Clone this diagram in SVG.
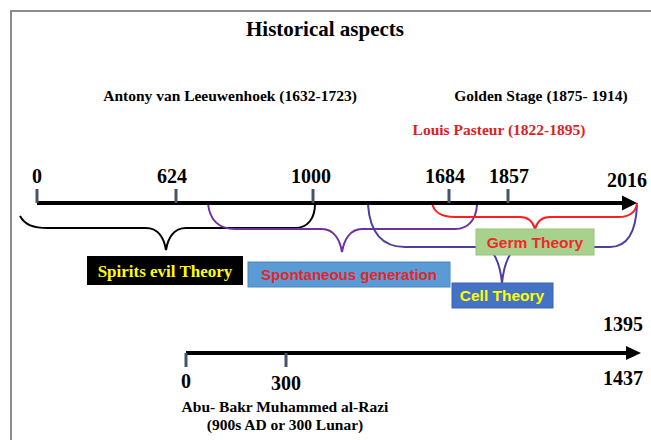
<svg xmlns="http://www.w3.org/2000/svg" width="651" height="440" viewBox="0 0 651 440">
<style>
.serif{font-family:"Liberation Serif","Times New Roman",serif;font-weight:bold}
.sans{font-family:"Liberation Sans",Arial,sans-serif;font-weight:bold}
.tick{stroke:#44546A;stroke-width:3}
.axis{stroke:#000;stroke-width:4}
.brace{fill:none;stroke-width:2}
</style>
<rect width="651" height="440" fill="#fff"/>
<g id="border" stroke="#8c8c8c" stroke-width="2" fill="none">
<path d="M11,440 V11 H651"/>
</g>
<g id="title"><text class="serif" x="325" y="36" font-size="21" text-anchor="middle" fill="#000">Historical aspects</text></g>
<g id="leeuwenhoek"><text class="serif" x="230" y="101" font-size="15.5" text-anchor="middle" fill="#000">Antony van Leeuwenhoek (1632-1723)</text></g>
<g id="golden"><text class="serif" x="541" y="101" font-size="15.5" text-anchor="middle" fill="#000">Golden Stage (1875- 1914)</text></g>
<g id="pasteur"><text class="serif" x="499" y="135" font-size="15.5" text-anchor="middle" fill="#E0201E">Louis Pasteur (1822-1895)</text></g>
<g id="connectors">
<path class="brace" stroke="#000" d="M20,216 C25,225 33,228 48,228 L146,228 C158,228 164,238 166,250 C168,238 174,228 186,228 L295,228 C308,228 315,218 315,204"/>
<path class="brace" stroke="#7030A0" d="M208,204 C210,220 218,229 235,229 L322,229 C334,229 340,240 342,252 C344,240 350,229 362,229 L455,229 C468,229 476,220 477,205"/>
<path class="brace" stroke="#4B3FA6" d="M368,205 C370,232 382,247 405,247 L482,247 C494,247 500,264 502,283 C504,264 510,247 522,247 L610,247 C628,247 636,230 637,205"/>
<path class="brace" stroke="#FF1E1E" d="M432,203 C434,212 440,217 455,217 L520,217 C528,217 533,222 535,229 C537,222 542,217 550,217 L618,217 C630,217 636,212 637,203"/>
</g>
<g id="main-axis">
<line class="axis" x1="37" y1="203" x2="624" y2="203"/>
<polygon points="622,195.5 637,203 622,210.5" fill="#000"/>
<line class="tick" x1="37" y1="189" x2="37" y2="203"/>
<line class="tick" x1="176" y1="189" x2="176" y2="203"/>
<line class="tick" x1="313" y1="189" x2="313" y2="203"/>
<line class="tick" x1="449" y1="189" x2="449" y2="203"/>
<line class="tick" x1="508" y1="189" x2="508" y2="203"/>
<text class="serif" x="37" y="183" font-size="20" text-anchor="middle">0</text>
<text class="serif" x="172" y="183" font-size="20" text-anchor="middle">624</text>
<text class="serif" x="311" y="183" font-size="20" text-anchor="middle">1000</text>
<text class="serif" x="445" y="183" font-size="20" text-anchor="middle">1684</text>
<text class="serif" x="509" y="183" font-size="20" text-anchor="middle">1857</text>
<text class="serif" x="627" y="187" font-size="20" text-anchor="middle">2016</text>
</g>
<g id="spirits">
<rect x="87" y="256" width="156" height="29" fill="#000"/>
<text class="serif" x="165" y="277" font-size="17" text-anchor="middle" fill="#FFFF00">Spirits evil Theory</text>
</g>
<g id="spontaneous">
<rect x="248" y="262" width="202" height="25" fill="#5B9BD5" stroke="#4a86c0" stroke-width="1"/>
<text class="sans" x="349" y="280" font-size="15" text-anchor="middle" fill="#E0282A">Spontaneous generation</text>
</g>
<g id="germ">
<rect x="476" y="229" width="118" height="26" fill="#A9D18E" stroke="#98c47c" stroke-width="1"/>
<text class="sans" x="535" y="248" font-size="15.5" text-anchor="middle" fill="#F0282A">Germ Theory</text>
</g>
<g id="cell">
<rect x="452" y="283" width="101" height="25" fill="#4472C4" stroke="#3a64b0" stroke-width="1"/>
<text class="sans" x="502" y="301" font-size="15.5" text-anchor="middle" fill="#FFFF00">Cell Theory</text>
</g>
<g id="second-axis">
<line class="axis" x1="186" y1="353" x2="627" y2="353"/>
<polygon points="626,346 641,353 626,360" fill="#000"/>
<line class="tick" x1="186" y1="353" x2="186" y2="367"/>
<line class="tick" x1="286" y1="353" x2="286" y2="367"/>
<text class="serif" x="186" y="388" font-size="20" text-anchor="middle">0</text>
<text class="serif" x="286" y="390" font-size="20" text-anchor="middle">300</text>
<text class="serif" x="643" y="331" font-size="20" text-anchor="end">1395</text>
<text class="serif" x="643" y="385" font-size="20" text-anchor="end">1437</text>
</g>
<g id="razi">
<text class="serif" x="285" y="412" font-size="15.5" text-anchor="middle">Abu- Bakr Muhammed al-Razi</text>
<text class="serif" x="285" y="430" font-size="15.5" text-anchor="middle">(900s AD or 300 Lunar)</text>
</g>
</svg>
